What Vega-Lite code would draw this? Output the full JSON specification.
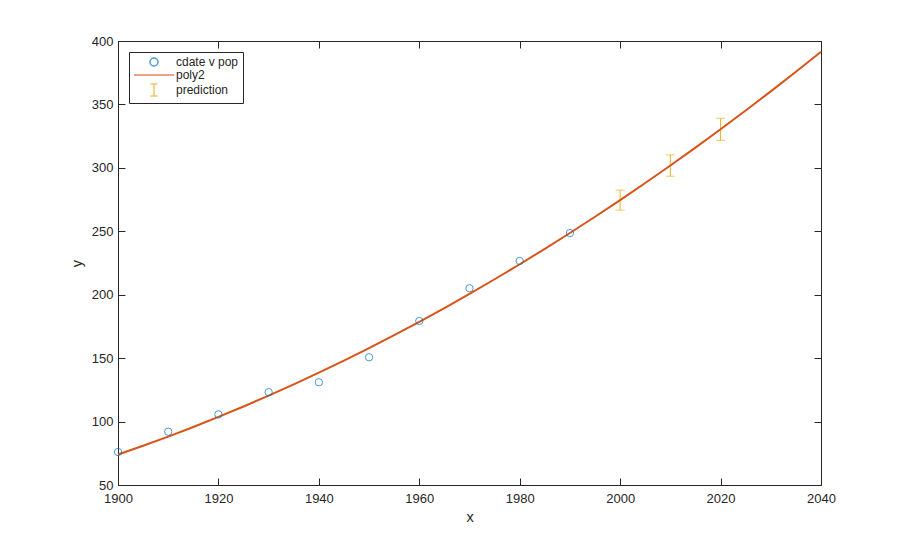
{
  "$schema": "https://vega.github.io/schema/vega-lite/v6.json",
  "autosize": "none",
  "width": 703,
  "height": 444,
  "padding": {"left": 118, "top": 41, "right": 87, "bottom": 61},
  "background": "white",
  "config": {
    "view": {"stroke": "#262626", "strokeWidth": 1},
    "font": "Liberation Sans",
    "axis": {
      "grid": false,
      "domainColor": "#262626",
      "tickColor": "#262626",
      "labelColor": "#262626",
      "titleColor": "#262626",
      "labelFontSize": 13,
      "titleFontSize": 14.5,
      "titleFontWeight": "normal",
      "tickSize": -7,
      "labelPadding": 12,
      "labelFlush": false
    },
    "legend": {
      "title": null,
      "orient": "top-left",
      "offset": 11,
      "strokeColor": "#262626",
      "fillColor": "white",
      "padding": 4,
      "labelFontSize": 12,
      "labelColor": "#262626",
      "symbolSize": 64,
      "symbolStrokeWidth": 1.5,
      "symbolOffset": 15,
      "labelOffset": 16,
      "rowPadding": 0,
      "symbolFillColor": "transparent"
    }
  },
  "datasets": {
    "census": [
      {"year": 1900, "pop": 76.0, "series": "cdate v pop"},
      {"year": 1910, "pop": 92.0, "series": "cdate v pop"},
      {"year": 1920, "pop": 105.7, "series": "cdate v pop"},
      {"year": 1930, "pop": 123.2, "series": "cdate v pop"},
      {"year": 1940, "pop": 131.0, "series": "cdate v pop"},
      {"year": 1950, "pop": 150.7, "series": "cdate v pop"},
      {"year": 1960, "pop": 179.3, "series": "cdate v pop"},
      {"year": 1970, "pop": 205.1, "series": "cdate v pop"},
      {"year": 1980, "pop": 226.6, "series": "cdate v pop"},
      {"year": 1990, "pop": 248.6, "series": "cdate v pop"}
    ],
    "fit": [
      {"year": 1900, "pop": 74.0},
      {"year": 1905, "pop": 80.93},
      {"year": 1910, "pop": 88.18},
      {"year": 1915, "pop": 95.75},
      {"year": 1920, "pop": 103.66},
      {"year": 1925, "pop": 111.89},
      {"year": 1930, "pop": 120.45},
      {"year": 1935, "pop": 129.33},
      {"year": 1940, "pop": 138.54},
      {"year": 1945, "pop": 148.08},
      {"year": 1950, "pop": 157.95},
      {"year": 1955, "pop": 168.14},
      {"year": 1960, "pop": 178.66},
      {"year": 1965, "pop": 189.51},
      {"year": 1970, "pop": 200.69},
      {"year": 1975, "pop": 212.19},
      {"year": 1980, "pop": 224.02},
      {"year": 1985, "pop": 236.17},
      {"year": 1990, "pop": 248.66},
      {"year": 1995, "pop": 261.47},
      {"year": 2000, "pop": 274.6},
      {"year": 2005, "pop": 288.06},
      {"year": 2010, "pop": 301.85},
      {"year": 2015, "pop": 315.97},
      {"year": 2020, "pop": 330.41},
      {"year": 2025, "pop": 345.18},
      {"year": 2030, "pop": 360.28},
      {"year": 2035, "pop": 375.71},
      {"year": 2040, "pop": 391.46}
    ],
    "pred": [
      {"year": 2000, "low": 266.7, "high": 282.5},
      {"year": 2010, "low": 293.4, "high": 310.2},
      {"year": 2020, "low": 321.7, "high": 339.1}
    ]
  },
  "resolve": {"axis": {"x": "independent", "y": "independent"}},
  "layer": [
    {
      "data": {"name": "pred"},
      "mark": {"type": "rule", "color": "#EDB120", "strokeWidth": 1},
      "encoding": {
        "x": {"field": "year", "type": "quantitative", "scale": {"domain": [1900, 2040], "nice": false, "zero": false},
              "axis": {"title": "x", "values": [1900,1920,1940,1960,1980,2000,2020,2040], "format": "d", "titlePadding": 5, "labelPadding": 14}},
        "y": {"field": "low", "type": "quantitative", "scale": {"domain": [50, 400], "nice": false, "zero": false},
              "axis": {"title": "y", "values": [50,100,150,200,250,300,350,400], "titlePadding": 7}},
        "y2": {"field": "high"}
      }
    },
    {
      "data": {"name": "pred"},
      "mark": {"type": "tick", "orient": "horizontal", "color": "#EDB120", "size": 9, "thickness": 1},
      "encoding": {
        "x": {"field": "year", "type": "quantitative", "axis": null},
        "y": {"field": "low", "type": "quantitative", "axis": null}
      }
    },
    {
      "data": {"name": "pred"},
      "mark": {"type": "tick", "orient": "horizontal", "color": "#EDB120", "size": 9, "thickness": 1},
      "encoding": {
        "x": {"field": "year", "type": "quantitative", "axis": null},
        "y": {"field": "high", "type": "quantitative", "axis": null}
      }
    },
    {
      "data": {"name": "fit"},
      "mark": {"type": "line", "color": "#D95319", "strokeWidth": 2, "interpolate": "monotone"},
      "encoding": {
        "x": {"field": "year", "type": "quantitative", "axis": null},
        "y": {"field": "pop", "type": "quantitative", "axis": null}
      }
    },
    {
      "data": {"name": "census"},
      "mark": {"type": "point", "filled": false, "size": 54, "strokeWidth": 1},
      "encoding": {
        "x": {"field": "year", "type": "quantitative",
              "axis": {"orient": "top", "labels": false, "title": null, "values": [1900,1920,1940,1960,1980,2000,2020,2040]}},
        "y": {"field": "pop", "type": "quantitative",
              "axis": {"orient": "right", "labels": false, "title": null, "values": [50,100,150,200,250,300,350,400]}},
        "color": {"field": "series", "type": "nominal",
                  "scale": {"domain": ["cdate v pop", "poly2", "prediction"], "range": ["#0072BD", "#D95319", "#EDB120"]},
                  "legend": {"title": null}},
        "shape": {"field": "series", "type": "nominal",
                  "scale": {"domain": ["cdate v pop", "poly2", "prediction"],
                            "range": ["circle", "M-5,0H5", "M-0.9,-1.5H0.9M0,-1.5V1.5M-0.9,1.5H0.9"]},
                  "legend": {"title": null}}
      }
    }
  ]
}
